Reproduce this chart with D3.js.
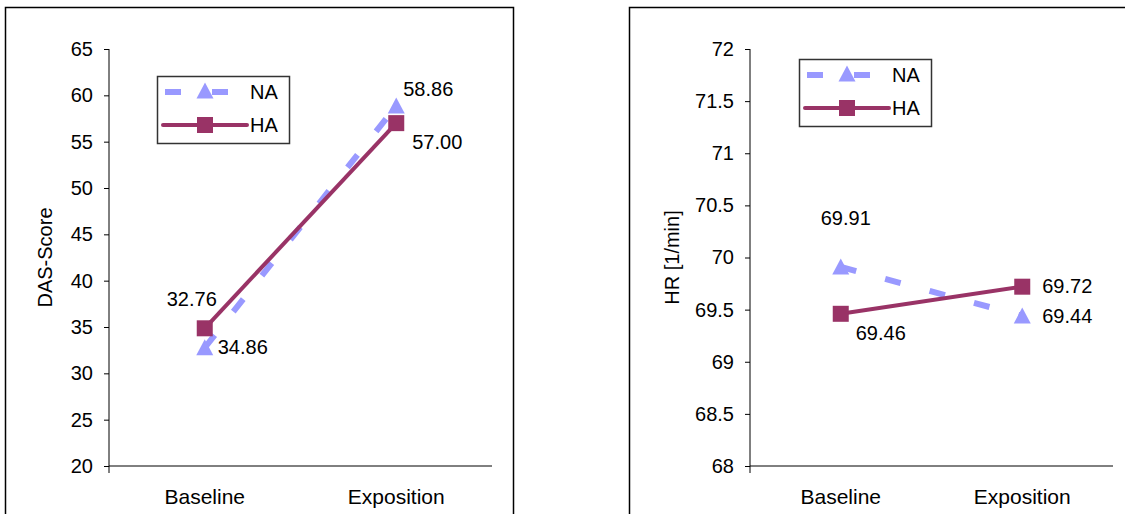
<!DOCTYPE html>
<html>
<head>
<meta charset="utf-8">
<script src="https://cdn.jsdelivr.net/npm/d3@7"></script>
<style>
  body { margin: 0; background: #fff; }
  svg text { font-family: "Liberation Sans", Arial, sans-serif; fill: #000; }
</style>
</head>
<body>
<svg id="chart" width="1125" height="514"></svg>
<script>
// categories and values
const categories = ["Baseline", "Exposition"];
const seriesNames = ["NA", "HA"];
const dasNA = [32.76, 58.86];
const dasHA = [34.86, 57.00];
const hrNA = [69.91, 69.44];
const hrHA = [69.46, 69.72];
const dasTicks = [20, 25, 30, 35, 40, 45, 50, 55, 60, 65];
const hrTicks = [68, 68.5, 69, 69.5, 70, 70.5, 71, 71.5, 72];

const COLORS = { NA: "#9999FF", HA: "#993366" };
const FONT = 20;

const PANELS = [
    {
        frame: [5, 7, 508, 520],
        plot: { x0: 109, x1: 492, y0: 49, y1: 466 },
        title: "DAS-Score", titleX: 45,
        na: dasNA, ha: dasHA, ticks: dasTicks,
        legend: [157, 76],
        // label offsets [dx, dy] relative to each point, text anchored at start
        naLab: [[-38, -49], [7, -17]],
        haLab: [[13, 19], [16, 19]]
    },
    {
        frame: [629, 7, 520, 520],
        plot: { x0: 750, x1: 1113, y0: 49, y1: 466 },
        title: "HR [1/min]", titleX: 672,
        na: hrNA, ha: hrHA, ticks: hrTicks,
        legend: [799, 59],
        naLab: [[-20, -49], [20, 0]],
        haLab: [[15, 19], [20, -1]]
    }
];

const svg = d3.select("#chart");
const fmt = d3.format(".2f");
const triPath = "M0,-8.5L8.5,7.5L-8.5,7.5Z";

var drawPanel = function(cfg){
    var p = cfg.plot;
    var g = svg.append("g");

    g.append("rect")
     .attr("x", cfg.frame[0] + 0.5).attr("y", cfg.frame[1] + 0.5)
     .attr("width", cfg.frame[2]).attr("height", cfg.frame[3])
     .attr("fill", "none").attr("stroke", "#000").attr("stroke-width", 1.5);

    var x = d3.scaleBand().domain(categories).range([p.x0, p.x1]);
    var y = d3.scaleLinear().domain(d3.extent(cfg.ticks)).range([p.y1, p.y0]);
    var cx = (c) => (x(c) + x.bandwidth()/2);

    // y axis
    var ax = g.append("g")
              .attr("transform", "translate("+p.x0+",0)")
              .call(d3.axisLeft(y).tickValues(cfg.ticks).tickFormat((d) => String(d))
                    .tickSizeInner(5).tickSizeOuter(0).tickPadding(11));
    ax.select(".domain").remove();
    ax.selectAll("text").style("font-size", FONT+"px").attr("fill", "#000");
    ax.selectAll("line").attr("stroke", "#000");
    g.append("line")
     .attr("x1", p.x0).attr("x2", p.x0)
     .attr("y1", p.y0).attr("y2", p.y1 + 7)
     .attr("stroke", "#000");

    // x axis
    g.append("line")
     .attr("x1", p.x0).attr("x2", p.x1)
     .attr("y1", p.y1).attr("y2", p.y1)
     .attr("stroke", "#000");
    g.selectAll("text.cat")
     .data(categories)
     .enter()
     .append("text")
     .classed("cat", true)
     .attr("x", (d) => cx(d))
     .attr("y", p.y1 + 38)
     .attr("text-anchor", "middle")
     .style("font-size", (FONT+1)+"px")
     .text((d) => d);

    g.append("text")
     .attr("transform", "translate("+cfg.titleX+","+((p.y0+p.y1)/2)+") rotate(-90)")
     .attr("text-anchor", "middle")
     .attr("dy", "0.35em")
     .style("font-size", FONT+"px")
     .text(cfg.title);

    var line = d3.line().x((d,i) => cx(categories[i])).y((d) => y(d));

    // NA: dashed with triangles
    g.append("path")
     .datum(cfg.na)
     .attr("d", line)
     .attr("fill", "none")
     .attr("stroke", COLORS.NA)
     .attr("stroke-width", 6)
     .attr("stroke-dasharray", "16,30");
    g.selectAll("path.tri")
     .data(cfg.na)
     .enter()
     .append("path")
     .classed("tri", true)
     .attr("d", triPath)
     .attr("transform", (d,i) => ("translate("+cx(categories[i])+","+y(d)+")"))
     .attr("fill", COLORS.NA);

    // HA: solid with squares
    g.append("path")
     .datum(cfg.ha)
     .attr("d", line)
     .attr("fill", "none")
     .attr("stroke", COLORS.HA)
     .attr("stroke-width", 4);
    g.selectAll("rect.sq")
     .data(cfg.ha)
     .enter()
     .append("rect")
     .classed("sq", true)
     .attr("x", (d,i) => cx(categories[i]) - 8)
     .attr("y", (d) => y(d) - 8)
     .attr("width", 16).attr("height", 16)
     .attr("fill", COLORS.HA);

    // data labels
    [[cfg.na, cfg.naLab], [cfg.ha, cfg.haLab]].forEach(function(s){
        g.selectAll(null)
         .data(s[0])
         .enter()
         .append("text")
         .attr("x", (d,i) => cx(categories[i]) + s[1][i][0])
         .attr("y", (d,i) => y(d) + s[1][i][1])
         .attr("dy", "0.35em")
         .style("font-size", FONT+"px")
         .text((d) => fmt(d));
    });

    // legend
    var lg = g.append("g").attr("transform", "translate("+cfg.legend[0]+","+cfg.legend[1]+")");
    lg.append("rect")
      .attr("x", 0.5).attr("y", 0.5)
      .attr("width", 132).attr("height", 67)
      .attr("fill", "#fff").attr("stroke", "#333").attr("stroke-width", 1.5);
    var rows = lg.selectAll("g.row")
                 .data(seriesNames)
                 .enter()
                 .append("g")
                 .classed("row", true)
                 .attr("transform", (d,i) => ("translate(0,"+(i === 0 ? 16 : 49)+")"));
    rows.append("line")
        .attr("x1", (d) => (d === "NA" ? 8 : 6)).attr("x2", 90)
        .attr("y1", 0).attr("y2", 0)
        .attr("stroke", (d) => COLORS[d])
        .attr("stroke-width", (d) => (d === "NA" ? 6 : 4))
        .attr("stroke-linecap", (d) => (d === "NA" ? "butt" : "round"))
        .attr("stroke-dasharray", (d) => (d === "NA" ? "16,31" : null));
    rows.filter((d) => d === "NA").append("path")
        .attr("d", triPath)
        .attr("transform", "translate(48,-1)")
        .attr("fill", COLORS.NA);
    rows.filter((d) => d === "HA").append("rect")
        .attr("x", 40).attr("y", -8).attr("width", 16).attr("height", 16)
        .attr("fill", COLORS.HA);
    rows.append("text")
        .attr("x", 93)
        .attr("dy", "0.35em")
        .style("font-size", FONT+"px")
        .text((d) => d);
};

PANELS.forEach(drawPanel);
</script>
</body>
</html>
